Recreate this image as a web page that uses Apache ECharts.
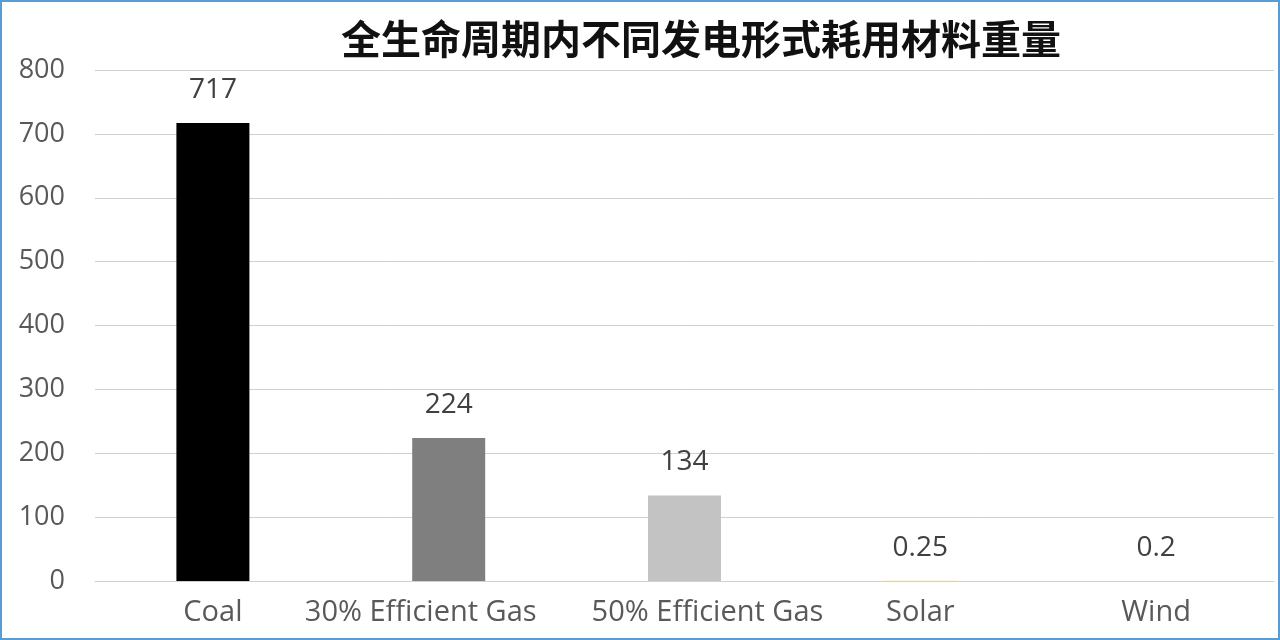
<!DOCTYPE html>
<html><head><meta charset="utf-8">
<script src="https://cdn.jsdelivr.net/npm/echarts@6/dist/echarts.min.js"></script>
<style>
html,body{margin:0;padding:0;background:#fff;}
#frame{position:absolute;left:0;top:0;width:1276px;height:636px;border:2px solid #5b9bd5;background:#fff;}
#c{width:1276px;height:636px;}
</style></head>
<body><div id="frame"><div id="c"></div></div>
<script>
const categories = ['Coal', '30% Efficient Gas', '50% Efficient Gas', 'Solar', 'Wind'];
const values = [717, 224, 134, 0.25, 0.2];
const barColors = ['#000000', '#7f7f7f', '#c3c3c3', '#ffd966', '#ffffff'];
const yTicks = [0, 100, 200, 300, 400, 500, 600, 700, 800];
const titleText = '全生命周期内不同发电形式耗用材料重量';
const labelPads = [[0,0,0,0], [0,56,0,0], [0,0,0,46], [0,0,0,0], [0,0,0,0]];

const chart = echarts.init(document.getElementById('c'));
chart.setOption({
  animation: false,
  backgroundColor: '#fff',
  title: {
    text: titleText,
    left: 694, top: 12, textAlign: 'center',
    textStyle: {fontFamily: 'Noto Sans CJK SC', fontSize: 40, fontWeight: 'bold', color: '#111'}
  },
  grid: {left: 93, right: 4, top: 68, bottom: 57, containLabel: false},
  xAxis: {
    type: 'category',
    data: categories.map((c, i) => ({value: c, textStyle: {padding: labelPads[i]}})),
    axisLine: {show: true, lineStyle: {color: '#d0d0d0', width: 1}},
    axisTick: {show: false},
    axisLabel: {interval: 0, fontFamily: 'Open Sans', fontSize: 29, color: '#595959', margin: 17}
  },
  yAxis: {
    type: 'value', min: 0, max: 800, interval: 100,
    axisLine: {show: false}, axisTick: {show: false},
    splitLine: {lineStyle: {color: '#d0d0d0', width: 1}},
    axisLabel: {fontFamily: 'Open Sans', fontSize: 27, color: '#595959', margin: 30,
      formatter: v => yTicks.indexOf(v) >= 0 ? String(v) : ''}
  },
  series: [{
    type: 'bar',
    barWidth: 73,
    data: values.map((v, i) => ({value: v, itemStyle: {color: barColors[i]}})),
    label: {
      show: true, position: 'top', distance: 19,
      fontFamily: 'Open Sans', fontSize: 28, color: '#404040'
    }
  }]
});
</script></body></html>
